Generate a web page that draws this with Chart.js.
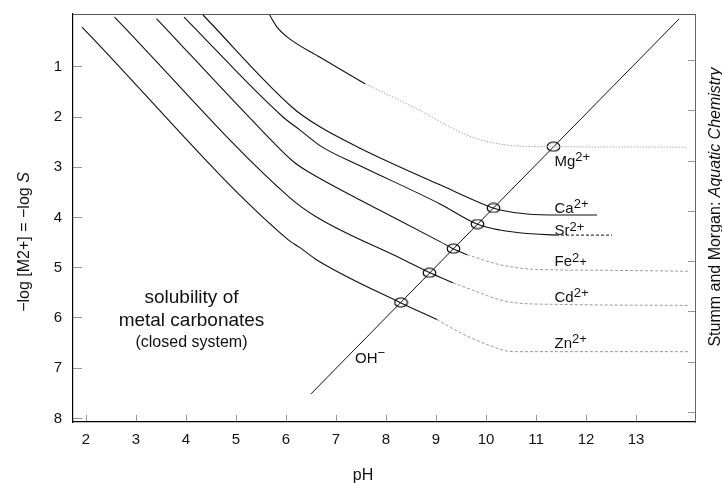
<!DOCTYPE html>
<html>
<head>
<meta charset="utf-8">
<script src="https://cdn.jsdelivr.net/npm/chart.js@4"></script>
<style>
  html, body { margin: 0; padding: 0; background: #fff; }
  canvas { display: block; }
</style>
</head>
<body>
<canvas id="solChart" width="722" height="483"></canvas>
<script>
// tick labels
const xTicks = [2, 3, 4, 5, 6, 7, 8, 9, 10, 11, 12, 13];
const yTicks = [1, 2, 3, 4, 5, 6, 7, 8];

// curves as [pH, -log S]
const mgSolid  = [[5.66, -0.05], [5.82, 0.21], [6.08, 0.45], [6.68, 0.81], [7.58, 1.34]];
const mgDotted = [[7.58, 1.34], [7.88, 1.48], [8.54, 1.80], [9.62, 2.36], [10.08, 2.50], [10.68, 2.58], [11.22, 2.59], [14.02, 2.60]];
const caSolid  = [[4.34, -0.03], [6.14, 1.82], [6.62, 2.16], [7.48, 2.62], [9.08, 3.35], [10.14, 3.81], [10.28, 3.85], [10.82, 3.93], [11.48, 3.95], [12.22, 3.95]];
const srSolid  = [[3.96, 0.01], [5.94, 2.00], [6.28, 2.26], [6.71, 2.59], [7.48, 2.97], [9.08, 3.73], [9.82, 4.13], [10.28, 4.25], [10.82, 4.32], [11.40, 4.35]];
const srDashed = [[11.40, 4.35], [12.52, 4.35]];
const feSolid  = [[3.41, 0.04], [5.51, 2.26], [6.15, 2.89], [6.48, 3.11], [7.48, 3.65], [9.08, 4.48], [9.34, 4.62], [9.62, 4.74]];
const feDashed = [[9.62, 4.74], [10.28, 4.94], [10.94, 5.03], [12.28, 5.05], [14.04, 5.07]];
const cdSolid  = [[2.57, 0.01], [6.08, 3.61], [6.61, 3.99], [8.35, 4.84], [8.88, 5.10], [9.34, 5.30]];
const cdDashed = [[9.34, 5.30], [9.88, 5.50], [10.28, 5.64], [10.61, 5.70], [11.50, 5.73], [14.08, 5.75]];
const znSolid  = [[1.92, 0.21], [6.04, 4.44], [6.28, 4.60], [6.61, 4.84], [8.30, 5.70], [9.02, 6.03]];
const znDashed = [[9.02, 6.03], [9.48, 6.29], [10.08, 6.55], [10.54, 6.67], [14.08, 6.67]];
const ohLine   = [[6.50, 7.51], [13.86, 0.05]];
const crossPoints = [[11.35, 2.59], [10.15, 3.81], [9.83, 4.13], [9.35, 4.62], [8.87, 5.10], [8.30, 5.69]];

const FONT = '"Liberation Sans", Arial, Helvetica, sans-serif';

const ionLabels = [
    { ph: 11.37, ps: 2.97, runs: [{ t: 'Mg', size: 15 }, { t: '2+', size: 13, dy: -5 }] },
    { ph: 11.37, ps: 3.91, runs: [{ t: 'Ca', size: 15 }, { t: '2+', size: 13, dy: -5 }] },
    { ph: 11.37, ps: 4.34, runs: [{ t: 'Sr', size: 15 }, { t: '2+', size: 13, dy: -4 }] },
    { ph: 11.37, ps: 4.97, runs: [{ t: 'Fe', size: 15 }, { t: '2', size: 13, dy: -4 }, { t: '+', size: 13 }] },
    { ph: 11.37, ps: 5.68, runs: [{ t: 'Cd', size: 15 }, { t: '2+', size: 13, dy: -5 }] },
    { ph: 11.37, ps: 6.60, runs: [{ t: 'Zn', size: 15 }, { t: '2+', size: 13, dy: -5 }] },
    { ph: 7.38, ps: 6.89, runs: [{ t: 'OH', size: 15 }, { t: '\u2212', size: 13, dy: -6 }] }
];

const noteLines = [
    { ph: 4.11, ps: 5.70, text: 'solubility of', size: 19 },
    { ph: 4.11, ps: 6.15, text: 'metal carbonates', size: 19 },
    { ph: 4.11, ps: 6.57, text: '(closed system)', size: 16 }
];

const pts = arr => arr.map(([x, y]) => ({ x, y }));

// open ellipse used for the crossing points
function ellipseMarker() {
    const c = document.createElement('canvas');
    c.width = 15;
    c.height = 11;
    const g = c.getContext('2d');
    g.strokeStyle = '#000';
    g.lineWidth = 1.2;
    g.beginPath();
    g.ellipse(7.5, 5.5, 6.3, 4.5, 0, 0, Math.PI * 2);
    g.stroke();
    return c;
}

function solid(data) {
    return {
        data: pts(data), showLine: true, borderColor: '#111', borderWidth: 1.1,
        pointRadius: 0, cubicInterpolationMode: 'monotone'
    };
}

function dashed(data, color, dash) {
    return {
        data: pts(data), showLine: true, borderColor: color, borderWidth: 1,
        borderDash: dash, pointRadius: 0, cubicInterpolationMode: 'monotone'
    };
}

function drawRuns(ctx, runs, x, y) {
    runs.forEach(r => {
        ctx.font = `${r.italic ? 'italic ' : ''}${r.size}px ${FONT}`;
        ctx.fillText(r.t, x, y + (r.dy || 0));
        x += ctx.measureText(r.t).width;
    });
}

function runsWidth(ctx, runs) {
    let w = 0;
    runs.forEach(r => {
        ctx.font = `${r.italic ? 'italic ' : ''}${r.size}px ${FONT}`;
        w += ctx.measureText(r.t).width;
    });
    return w;
}

// scales must not push the plot area in
function noPadding(s) {
    s.paddingTop = 0;
    s.paddingBottom = 0;
    s.paddingLeft = 0;
    s.paddingRight = 0;
}

const textPlugin = {
    id: 'texts',
    afterDraw(chart) {
        const { ctx, chartArea: a, scales: { x, y } } = chart;
        ctx.save();

        // top frame line
        ctx.strokeStyle = '#555';
        ctx.lineWidth = 1;
        ctx.beginPath();
        ctx.moveTo(a.left, a.top + 0.5);
        ctx.lineTo(a.right, a.top + 0.5);
        ctx.stroke();

        ctx.fillStyle = '#111';
        ctx.textAlign = 'left';
        ctx.textBaseline = 'alphabetic';
        ionLabels.forEach(l => {
            drawRuns(ctx, l.runs, x.getPixelForValue(l.ph), y.getPixelForValue(l.ps));
        });

        ctx.textAlign = 'center';
        noteLines.forEach(n => {
            ctx.font = `${n.size}px ${FONT}`;
            ctx.fillText(n.text, x.getPixelForValue(n.ph), y.getPixelForValue(n.ps));
        });

        // axis titles
        ctx.font = `16px ${FONT}`;
        ctx.fillText('pH', 363, 480);

        ctx.textAlign = 'left';
        const yTitle = [{ t: '\u2212log [M2+] = \u2212log ', size: 16 }, { t: 'S', size: 16, italic: true }];
        ctx.save();
        ctx.translate(29, 242);
        ctx.rotate(-Math.PI / 2);
        drawRuns(ctx, yTitle, -runsWidth(ctx, yTitle) / 2, 0);
        ctx.restore();

        const credit = [{ t: 'Stumm and Morgan: ', size: 16 }, { t: 'Aquatic Chemistry', size: 16, italic: true }];
        ctx.save();
        ctx.translate(720, 207);
        ctx.rotate(-Math.PI / 2);
        drawRuns(ctx, credit, -runsWidth(ctx, credit) / 2, 0);
        ctx.restore();

        ctx.restore();
    }
};

new Chart(document.getElementById('solChart'), {
    type: 'scatter',
    data: {
        datasets: [
            solid(mgSolid), dashed(mgDotted, '#aaa', [1.5, 1.5]),
            solid(caSolid),
            solid(srSolid), dashed(srDashed, '#111', [3, 2]),
            solid(feSolid), dashed(feDashed, '#999', [3, 2]),
            solid(cdSolid), dashed(cdDashed, '#999', [3, 2]),
            solid(znSolid), dashed(znDashed, '#999', [3, 2]),
            { data: pts(ohLine), showLine: true, borderColor: '#111', borderWidth: 1, pointRadius: 0 },
            { data: pts(crossPoints), showLine: false, pointStyle: ellipseMarker(), pointRadius: 6 }
        ]
    },
    options: {
        responsive: false,
        animation: false,
        layout: { padding: { top: 14, left: 0, right: 0, bottom: 0 } },
        plugins: {
            legend: { display: false },
            tooltip: { enabled: false }
        },
        scales: {
            x: {
                type: 'linear',
                position: 'bottom',
                min: 1.74,
                max: 14.18,
                afterBuildTicks: s => { s.ticks = xTicks.map(v => ({ value: v })); },
                afterFit: s => { s.height = 61; noPadding(s); },
                grid: { drawOnChartArea: false, tickLength: -7, color: '#999' },
                border: { color: '#000', width: 1.2 },
                ticks: { color: '#111', padding: 16, maxRotation: 0, autoSkip: false, font: { family: FONT, size: 15 } }
            },
            y: {
                type: 'linear',
                position: 'left',
                reverse: true,
                min: -0.05,
                max: 8.07,
                afterBuildTicks: s => { s.ticks = yTicks.map(v => ({ value: v })); },
                afterFit: s => { s.width = 73; noPadding(s); },
                grid: { drawOnChartArea: false, tickLength: -9, color: '#999' },
                border: { color: '#000', width: 1.2 },
                ticks: { color: '#111', padding: 20, font: { family: FONT, size: 15 } }
            },
            y2: {
                type: 'linear',
                position: 'right',
                reverse: true,
                min: 0.07,
                max: 8.19,
                afterBuildTicks: s => { s.ticks = yTicks.map(v => ({ value: v })); },
                afterFit: s => { s.width = 27; noPadding(s); },
                grid: { drawOnChartArea: false, tickLength: -7, color: '#999' },
                border: { color: '#666', width: 1 },
                ticks: { display: false }
            }
        }
    },
    plugins: [textPlugin]
});
</script>
</body>
</html>
